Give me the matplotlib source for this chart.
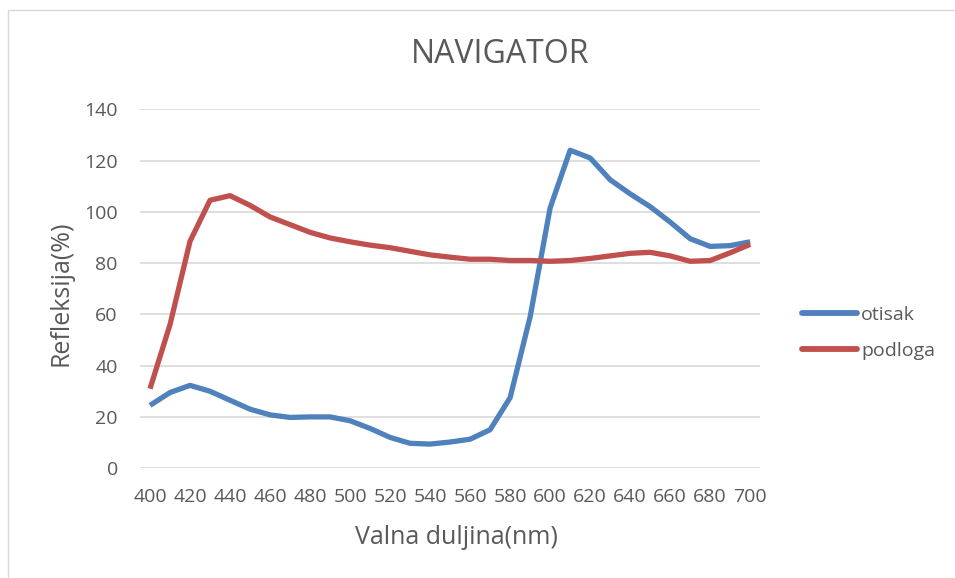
import matplotlib
matplotlib.use("Agg")
import matplotlib.pyplot as plt
from matplotlib.patches import Rectangle

plt.rcParams['font.family'] = ['Open Sans', 'DejaVu Sans']

# wavelengths (nm)
valna = list(range(400, 701, 10))
# reflection of the print
otisak = [24.5, 29.5, 32.3, 30, 26.5, 23, 20.8, 19.8, 20, 20,
          18.5, 15.5, 12, 9.7, 9.4, 10.2, 11.3, 15, 27.5, 59,
          101.5, 124, 121, 112.5, 107, 102, 96, 89.5, 86.5, 86.8, 88.3]
# reflection of the substrate
podloga = [31, 56, 88.5, 104.5, 106.3, 102.5, 98, 95, 92, 89.8,
           88.3, 87, 86, 84.6, 83.2, 82.3, 81.5, 81.5, 81, 81,
           80.7, 81, 81.8, 82.8, 83.8, 84.2, 82.8, 80.7, 81, 84, 87.3]
xticks = list(range(400, 701, 20))
yticks = list(range(0, 141, 20))

txt = '#595959'

fig = plt.figure(figsize=(9.55, 5.78), dpi=100)
# chart border like excel
fig.patches.append(Rectangle((0.008, -0.01), 1.0, 0.993, transform=fig.transFigure,
                             fill=False, edgecolor='#d9d9d9', linewidth=1))

ax = fig.add_axes([0.1466, 0.190, 0.6494, 0.621])
ax.plot(valna, otisak, color='#4f81bd', linewidth=3.8, label='otisak', solid_capstyle='butt')
ax.plot(valna, podloga, color='#c0504d', linewidth=3.8, label='podloga', solid_capstyle='butt')

ax.set_xlim(395, 705)
ax.set_ylim(0, 140)
ax.set_xticks(xticks)
ax.set_yticks(yticks)
ax.grid(axis='y', color='#d9d9d9', linewidth=1.2)
ax.set_axisbelow(True)
for s in ax.spines.values():
    s.set_visible(False)
ax.tick_params(length=0, labelsize=14, colors=txt)
ax.tick_params(axis='x', pad=14)
ax.tick_params(axis='y', pad=16)

fig.text(0.5236, 0.905, 'NAVIGATOR', fontsize=23, color=txt, ha='center', va='center')

ax.set_xlabel('Valna duljina(nm)', fontsize=18, color=txt)
ax.xaxis.label.set_va('center')
ax.xaxis.set_label_coords(0.511, -0.192)
ax.set_ylabel('Refleksija(%)', fontsize=18, color=txt)
ax.yaxis.label.set_va('center')
ax.yaxis.set_label_coords(-0.1274, 0.4875)

leg = fig.legend(loc='center left', bbox_to_anchor=(0.8398, 0.424), frameon=False,
                 fontsize=14, handlelength=2.85, labelspacing=0.95, handletextpad=0.2,
                 borderpad=0, borderaxespad=0)
for t in leg.get_texts():
    t.set_color(txt)
for h in leg.get_lines():
    h.set_linewidth(4.2)
    h.set_solid_capstyle('round')

fig.savefig('out.png', dpi=100)
